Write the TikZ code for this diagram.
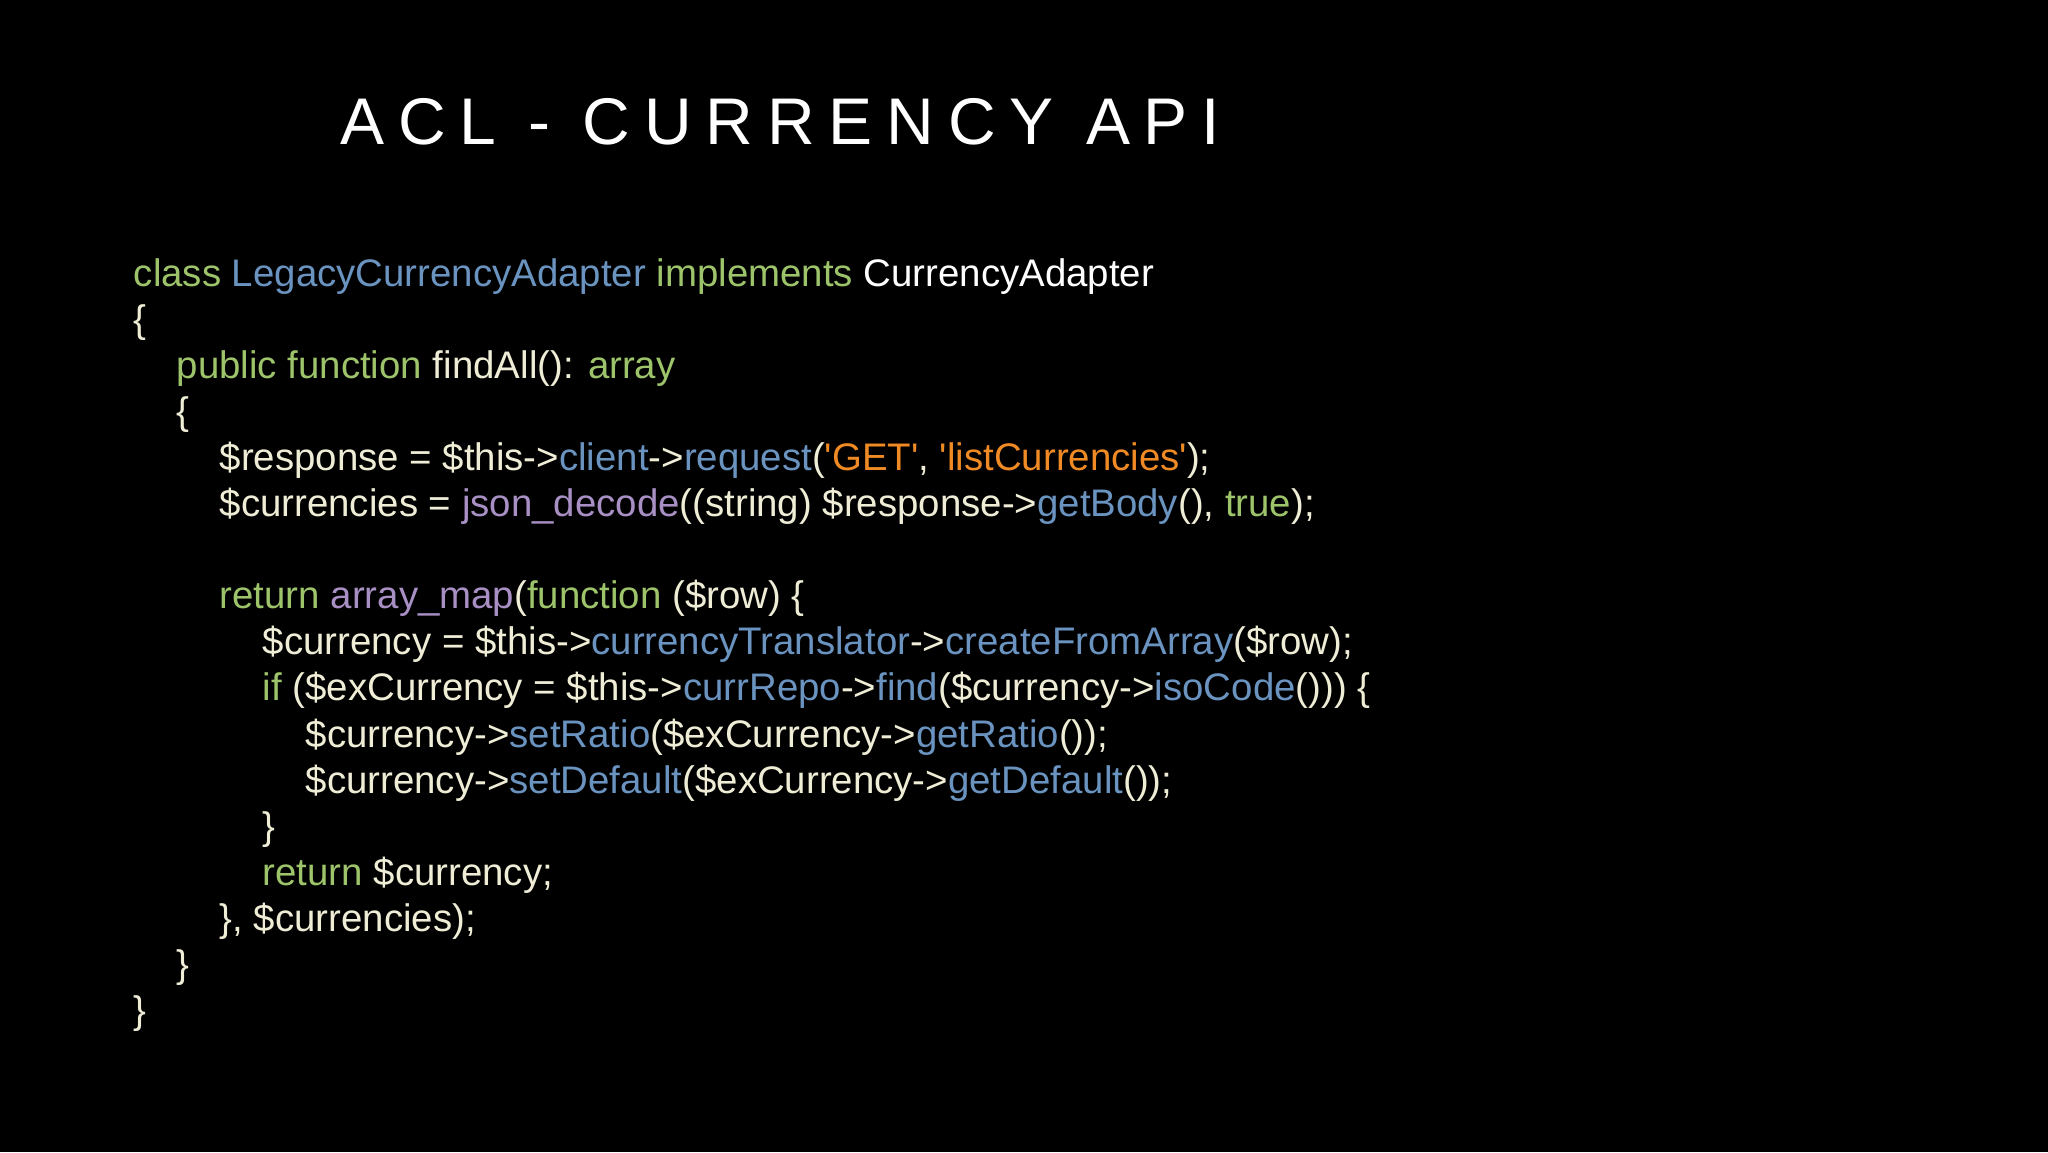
\documentclass[tikz,border=0pt]{standalone}
\usepackage{fontspec}
\newfontfamily\code{Liberation Sans}
\newfontfamily\ttl[LetterSpace=21]{Liberation Sans}
\definecolor{bg}{HTML}{000000}
\definecolor{cr}{HTML}{EFEDD6}
\definecolor{kw}{HTML}{9DC46A}
\definecolor{bl}{HTML}{6A93C0}
\definecolor{pu}{HTML}{A88FC4}
\definecolor{or}{HTML}{F08A24}
\newcommand\cK[1]{\textcolor{kw}{#1}}
\newcommand\cB[1]{\textcolor{bl}{#1}}
\newcommand\cP[1]{\textcolor{pu}{#1}}
\newcommand\cO[1]{\textcolor{or}{#1}}
\tikzset{ln/.style={anchor=base west,inner sep=0pt,text=cr,font=\code\fontsize{19.2pt}{22pt}\selectfont}}
\begin{document}
\begin{tikzpicture}[x=1pt,y=1pt]
\fill[bg] (0,0) rectangle (1024,-576);
\useasboundingbox (0,0) rectangle (1024,-576);
\node[anchor=base west,inner sep=0pt,text=white,font=\ttl\fontsize{33pt}{36pt}\selectfont] (title) at (170,-72) {ACL - CURRENCY API};
\def\lx{66.7}\def\ind{21.5}\def\lh{23.05}
\node[ln] (l0) at (\lx,-143) {\cK{class} \cB{LegacyCurrencyAdapter} \cK{implements} \textcolor{white}{CurrencyAdapter}};
\node[ln] (l1) at (\lx,-143-\lh) {\{};
\node[ln] (l2) at (\lx+\ind,-143-2*\lh) {\cK{public function} findAll(): \cK{array}};
\node[ln] (l3) at (\lx+\ind,-143-3*\lh) {\{};
\node[ln] (l4) at (\lx+2*\ind,-143-4*\lh) {\$response = \$this->\cB{client}->\cB{request}(\cO{'GET'}, \cO{'listCurrencies'});};
\node[ln] (l5) at (\lx+2*\ind,-143-5*\lh) {\$currencies = \cP{json\_decode}((string) \$response->\cB{getBody}(), \cK{true});};
\node[ln] (l7) at (\lx+2*\ind,-143-7*\lh) {\cK{return} \cP{array\_map}(\cK{function} (\$row) \{};
\node[ln] (l8) at (\lx+3*\ind,-143-8*\lh) {\$currency = \$this->\cB{currencyTranslator}->\cB{createFromArray}(\$row);};
\node[ln] (l9) at (\lx+3*\ind,-143-9*\lh) {\cK{if} (\$exCurrency = \$this->\cB{currRepo}->\cB{find}(\$currency->\cB{isoCode}())) \{};
\node[ln] (l10) at (\lx+4*\ind,-143-10*\lh) {\$currency->\cB{setRatio}(\$exCurrency->\cB{getRatio}());};
\node[ln] (l11) at (\lx+4*\ind,-143-11*\lh) {\$currency->\cB{setDefault}(\$exCurrency->\cB{getDefault}());};
\node[ln] (l12) at (\lx+3*\ind,-143-12*\lh) {\}};
\node[ln] (l13) at (\lx+3*\ind,-143-13*\lh) {\cK{return} \$currency;};
\node[ln] (l14) at (\lx+2*\ind,-143-14*\lh) {\}, \$currencies);};
\node[ln] (l15) at (\lx+\ind,-143-15*\lh) {\}};
\node[ln] (l16) at (\lx,-143-16*\lh) {\}};
\end{tikzpicture}
\end{document}
